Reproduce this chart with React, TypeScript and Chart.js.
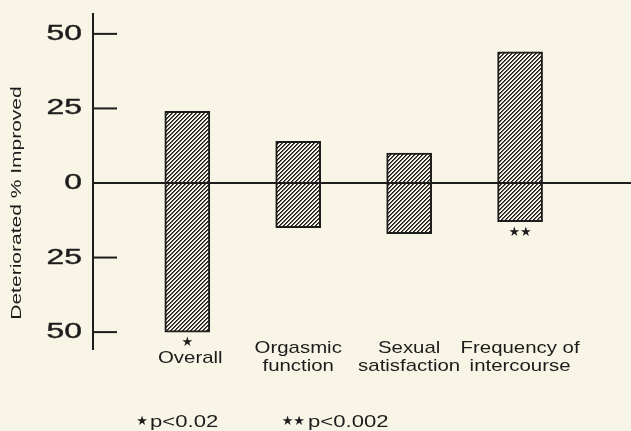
import React, { useEffect, useRef } from 'react';
import Chart from 'chart.js/auto';

const categories = ['Overall', 'Orgasmic function', 'Sexual satisfaction', 'Frequency of intercourse'];
const categoryLines = [['Overall'], ['Orgasmic', 'function'], ['Sexual', 'satisfaction'], ['Frequency of', 'intercourse']];
const improved = [24, 14, 10, 44];
const deteriorated = [50, 15, 17, 13];
const significance = ['★', '', '', '★★'];
const tickValues = [-50, -25, 0, 25, 50];
const axisTitle = 'Deteriorated % Improved';
const footnoteStars = ['★', '★★'];
const footnoteTexts = ['p<0.02', 'p<0.002'];

const BG = '#f9f5e6';
const INK = '#1c1c1c';
const FONT = '"Liberation Sans", Arial, sans-serif';

function makeHatch(): CanvasPattern | string {
  const c = document.createElement('canvas');
  c.width = 4;
  c.height = 4;
  const g = c.getContext('2d');
  if (!g) return '#888';
  g.fillStyle = BG;
  g.fillRect(0, 0, 4, 4);
  for (let x = 0; x < 4; x++) {
    for (let y = 0; y < 4; y++) {
      const k = (x + y) % 4;
      if (k === 0) {
        g.fillStyle = '#151515';
        g.fillRect(x, y, 1, 1);
      } else if (k === 1) {
        g.fillStyle = '#5a5a5a';
        g.fillRect(x, y, 1, 1);
      }
    }
  }
  return g.createPattern(c, 'repeat') || '#888';
}

function stretchText(
  ctx: CanvasRenderingContext2D,
  text: string,
  x: number,
  y: number,
  size: number,
  sx: number,
  align: CanvasTextAlign,
  rotate = 0,
  weight = 0
) {
  ctx.save();
  ctx.font = `${size}px ${FONT}`;
  ctx.fillStyle = INK;
  ctx.strokeStyle = INK;
  ctx.textAlign = align;
  ctx.textBaseline = 'middle';
  ctx.translate(x, y);
  if (rotate) ctx.rotate(rotate);
  ctx.scale(sx, 1);
  ctx.fillText(text, 0, 0);
  if (weight > 0) {
    ctx.lineWidth = weight;
    ctx.strokeText(text, 0, 0);
  }
  ctx.restore();
}

function stars(ctx: CanvasRenderingContext2D, text: string, x: number, y: number, align: CanvasTextAlign) {
  ctx.save();
  ctx.font = `13px "DejaVu Sans", sans-serif`;
  ctx.fillStyle = INK;
  ctx.textAlign = align;
  ctx.textBaseline = 'middle';
  ctx.fillText(text, x, y);
  ctx.restore();
}

const decor = {
  id: 'decor',
  beforeDraw(chart: any) {
    const ctx = chart.ctx as CanvasRenderingContext2D;
    ctx.save();
    ctx.fillStyle = BG;
    ctx.fillRect(0, 0, chart.width, chart.height);
    ctx.restore();
  },
  afterDatasetsDraw(chart: any) {
    const ctx = chart.ctx as CanvasRenderingContext2D;
    const xs = chart.scales.x;
    const ys = chart.scales.y;
    const { left, right, top, bottom } = chart.chartArea;
    ctx.save();
    ctx.strokeStyle = INK;
    ctx.lineWidth = 2;
    // zero line
    const y0 = ys.getPixelForValue(0);
    ctx.beginPath();
    ctx.moveTo(left, y0);
    ctx.lineTo(right, y0);
    ctx.stroke();
    // y axis
    ctx.beginPath();
    ctx.moveTo(left, top);
    ctx.lineTo(left, bottom);
    ctx.stroke();
    // ticks (inside)
    tickValues.forEach((v) => {
      const y = ys.getPixelForValue(v);
      ctx.beginPath();
      ctx.moveTo(left, y);
      ctx.lineTo(left + 24, y);
      ctx.stroke();
      stretchText(ctx, String(Math.abs(v)), left - 11, y, 22, 1.45, 'right', 0, 0.4);
    });
    ctx.restore();

    // significance + category labels
    categories.forEach((_, i) => {
      const cx = xs.getPixelForValue(i);
      if (significance[i]) {
        stars(ctx, significance[i], cx, ys.getPixelForValue(-deteriorated[i]) + 11, 'center');
      }
      const lines = categoryLines[i];
      if (lines.length === 1) {
        stretchText(ctx, lines[0], cx + 3, 358, 17, 1.2, 'center');
      } else {
        lines.forEach((ln, j) => stretchText(ctx, ln, cx, 348 + j * 18, 17, 1.2, 'center'));
      }
    });

    // axis title
    stretchText(ctx, axisTitle, 17, 203, 15, 1.4, 'center', -Math.PI / 2);

    // footnotes
    stars(ctx, footnoteStars[0], 148, 422, 'right');
    stretchText(ctx, footnoteTexts[0], 150, 422, 17, 1.3, 'left');
    stars(ctx, footnoteStars[1], 305, 422, 'right');
    stretchText(ctx, footnoteTexts[1], 308, 422, 17, 1.3, 'left');
  },
};

export default function App() {
  const ref = useRef<HTMLCanvasElement>(null);
  useEffect(() => {
    if (!ref.current) return;
    const hatch = makeHatch();
    const chart = new Chart(ref.current, {
      type: 'bar',
      data: {
        datasets: [
          {
            data: categories.map((_, i) => ({ x: i, y: [-deteriorated[i], improved[i]] })) as any,
            backgroundColor: hatch as any,
            borderColor: INK,
            borderWidth: 2,
            borderSkipped: false,
            barThickness: 45,
          },
        ],
      },
      options: {
        responsive: false,
        animation: false,
        devicePixelRatio: 1,
        layout: { padding: { top: 13, bottom: 81, left: 93, right: 0 } },
        plugins: { legend: { display: false }, tooltip: { enabled: false }, title: { display: false } },
        scales: {
          x: { type: 'linear', min: -0.85, max: 4.0, offset: false, grid: { offset: false }, display: false },
          y: { type: 'linear', min: -56, max: 57, display: false },
        },
      },
      plugins: [decor],
    });
    return () => chart.destroy();
  }, []);
  return (
    <div style={{ position: 'fixed', left: 0, top: 0, width: 631, height: 431, background: BG }}>
      <canvas ref={ref} width={631} height={431} style={{ display: 'block', width: 631, height: 431 }} />
    </div>
  );
}
